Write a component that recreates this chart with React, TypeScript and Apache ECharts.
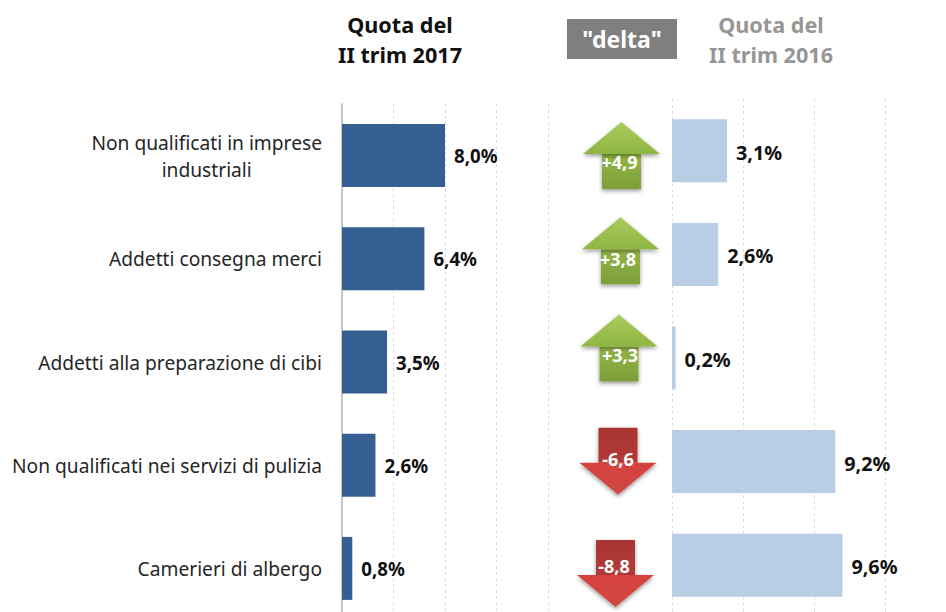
import React, { useEffect, useRef } from "react";
import * as echarts from "echarts";

const categories = [
  "Non qualificati in imprese\nindustriali",
  "Addetti consegna merci",
  "Addetti alla preparazione di cibi",
  "Non qualificati nei servizi di pulizia",
  "Camerieri di albergo",
];
const share2017 = [8.0, 6.4, 3.5, 2.6, 0.8];
const share2016 = [3.1, 2.6, 0.2, 9.2, 9.6];
const deltas = [4.9, 3.8, 3.3, -6.6, -8.8];

const FONT = "'Noto Sans', sans-serif";
const comma = (v: number) => v.toFixed(1).replace(".", ",");

// Hand placement of each arrow relative to the centre of its row
const arrowShift = [
  { dx: -0.5, dy: 0, lx: -2, ly: 6 },
  { dx: -1.5, dy: -8, lx: -2.5, ly: 8 },
  { dx: -3, dy: -14, lx: 1, ly: 7 },
  { dx: -4, dy: -4, lx: 0, ly: -2 },
  { dx: -6.5, dy: 5, lx: -1.5, ly: -7.5 },
];

function renderArrow(params: any, api: any) {
  const i = params.dataIndex;
  const v = api.value(0) as number;
  const [cx0, cy0] = api.coord([0, i]);
  const s = arrowShift[i];
  const cx = cx0 + s.dx;
  const cy = cy0 + s.dy;
  const up = v >= 0;
  const d = up ? 1 : -1; // 1: tip points up
  const tipY = cy - d * 33.5;
  const headY = cy - d * 1.5;
  const endY = cy + d * 33.5;
  const hw = 38.5;
  const sw = 19.5;
  const shadow = { shadowBlur: 4, shadowColor: "rgba(0,0,0,0.4)", shadowOffsetY: 2 };
  const stemFill = up
    ? new echarts.graphic.LinearGradient(0, 0, 0, 1, [
        { offset: 0, color: "#93b546" },
        { offset: 1, color: "#7d9f3a" },
      ])
    : new echarts.graphic.LinearGradient(0, 0, 0, 1, [
        { offset: 0, color: "#a93533" },
        { offset: 1, color: "#b23a37" },
      ]);
  const headFill = up
    ? new echarts.graphic.LinearGradient(0, 0, 0, 1, [
        { offset: 0, color: "#a9cc5e" },
        { offset: 1, color: "#8fb542" },
      ])
    : new echarts.graphic.LinearGradient(0, 0, 0, 1, [
        { offset: 0, color: "#d6423e" },
        { offset: 1, color: "#cf4744" },
      ]);
  return {
    type: "group",
    children: [
      {
        type: "polygon",
        shape: {
          points: [
            [cx - sw, endY],
            [cx + sw, endY],
            [cx + sw, headY],
            [cx - sw, headY],
          ],
        },
        style: { fill: stemFill, ...shadow },
      },
      {
        type: "polygon",
        shape: {
          points: [
            [cx, tipY],
            [cx + hw, headY],
            [cx - hw, headY],
          ],
        },
        style: { fill: headFill, ...shadow },
      },
      {
        type: "text",
        style: {
          x: cx + s.lx,
          y: cy + s.ly,
          text: (up ? "+" : "") + comma(v),
          fill: "#ffffff",
          font: `bold 18px ${FONT}`,
          align: "center",
          verticalAlign: "middle",
        },
      },
    ],
  };
}

const gridLine = { show: true, lineStyle: { color: "#dcdcdc", type: [3, 3], width: 1 } };

export default function App() {
  const ref = useRef<HTMLDivElement>(null);
  useEffect(() => {
    const chart = echarts.init(ref.current!, undefined, { renderer: "svg" });
    chart.setOption({
      animation: false,
      backgroundColor: "#ffffff",
      grid: [
        { left: 342, top: 104, width: 206, height: 516, outerBoundsMode: "none" },
        { left: 672, top: 99, width: 213, height: 518, outerBoundsMode: "none" },
        { left: 567, top: 104, width: 110, height: 516, outerBoundsMode: "none" },
      ],
      xAxis: [
        { gridIndex: 0, type: "value", min: 0, max: 16, interval: 4, axisLabel: { show: false }, axisLine: { show: false }, axisTick: { show: false }, splitLine: gridLine },
        { gridIndex: 1, type: "value", min: 0, max: 12, interval: 4, axisLabel: { show: false }, axisLine: { show: false }, axisTick: { show: false }, splitLine: gridLine },
        { gridIndex: 2, type: "value", min: -1, max: 1, show: false },
      ],
      yAxis: [
        {
          gridIndex: 0,
          type: "category",
          inverse: true,
          data: categories,
          axisTick: { show: false },
          axisLine: { show: true, lineStyle: { color: "#c8c8c8", width: 2 } },
          axisLabel: {
            margin: 20,
            align: "right",
            fontFamily: FONT,
            fontSize: 19.2,
            color: "#262626",
            lineHeight: 27,
            formatter: (v: string) => {
              const parts = v.split("\n");
              return parts.length > 1 ? `${parts[0]}\n{c|${parts[1]}}` : v;
            },
            rich: { c: { width: 229, align: "center", fontFamily: FONT, fontSize: 19.2, color: "#262626", lineHeight: 27 } },
          },
        },
        { gridIndex: 1, type: "category", inverse: true, data: categories, show: false },
        { gridIndex: 2, type: "category", inverse: true, data: categories, show: false },
      ],
      series: [
        {
          type: "bar",
          xAxisIndex: 0,
          yAxisIndex: 0,
          data: share2017,
          barWidth: 63,
          itemStyle: { color: "#366092" },
          label: {
            show: true,
            position: "right",
            distance: 9,
            formatter: (p: any) => comma(p.value) + "%",
            fontFamily: FONT,
            fontWeight: "bold",
            fontSize: 18.7,
            color: "#111111",
          },
        },
        {
          type: "bar",
          xAxisIndex: 1,
          yAxisIndex: 1,
          data: share2016,
          barWidth: 63,
          itemStyle: { color: "#b9cde5" },
          label: {
            show: true,
            position: "right",
            distance: 9,
            offset: [0, 1.5],
            formatter: (p: any) => comma(p.value) + "%",
            fontFamily: FONT,
            fontWeight: "bold",
            fontSize: 19.8,
            color: "#111111",
          },
        },
        {
          type: "custom",
          xAxisIndex: 2,
          yAxisIndex: 2,
          coordinateSystem: "cartesian2d",
          data: deltas.map((d, i) => [d, i]),
          encode: { x: 0, y: 1 },
          clip: false,
          renderItem: renderArrow,
        },
      ],
      graphic: [
        {
          type: "text",
          x: 400,
          y: 39,
          style: {
            text: "Quota del\nII trim 2017",
            fill: "#111111",
            font: `bold 21.6px ${FONT}`,
            lineHeight: 30,
            align: "center",
            verticalAlign: "middle",
          },
        },
        {
          type: "rect",
          shape: { x: 567, y: 19, width: 110, height: 40 },
          style: { fill: "#7f7f7f" },
        },
        {
          type: "text",
          x: 622,
          y: 39,
          style: {
            text: '"delta"',
            fill: "#ffffff",
            font: `bold 23px ${FONT}`,
            align: "center",
            verticalAlign: "middle",
          },
        },
        {
          type: "text",
          x: 771,
          y: 39,
          style: {
            text: "Quota del\nII trim 2016",
            fill: "#969696",
            font: `bold 21.6px ${FONT}`,
            lineHeight: 30,
            align: "center",
            verticalAlign: "middle",
          },
        },
      ],
    });
    return () => chart.dispose();
  }, []);
  return (
    <div
      ref={ref}
      style={{ position: "absolute", left: 0, top: 0, width: 946, height: 612, overflow: "hidden" }}
    />
  );
}
